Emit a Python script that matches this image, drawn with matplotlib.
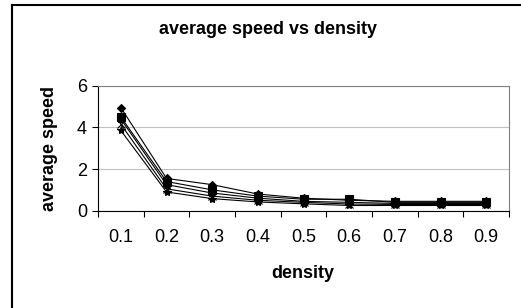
import numpy as np
import matplotlib.pyplot as plt
from matplotlib.lines import Line2D

plt.rcParams['font.family'] = ['Liberation Sans', 'DejaVu Sans']

densities = ["0.1", "0.2", "0.3", "0.4", "0.5", "0.6", "0.7", "0.8", "0.9"]
s1 = [4.95, 1.55, 1.25, 0.80, 0.60, 0.50, 0.45, 0.45, 0.45]
s2 = [4.50, 1.40, 1.00, 0.70, 0.55, 0.55, 0.40, 0.40, 0.40]
s3 = [4.40, 1.25, 0.85, 0.60, 0.45, 0.40, 0.35, 0.35, 0.35]
s4 = [4.15, 1.05, 0.70, 0.50, 0.40, 0.32, 0.30, 0.30, 0.30]
s5 = [3.85, 0.90, 0.58, 0.42, 0.33, 0.25, 0.25, 0.25, 0.25]
series = [s1, s2, s3, s4, s5]
markers = ['D', 's', '^', 'x', '*']
sizes = [4.5, 5.5, 5, 5.5, 6]

fig = plt.figure(figsize=(5.21, 3.08), dpi=100)
ax = fig.add_axes([98 / 521, 1 - 210.7 / 308, 411 / 521, 125 / 308])

x = np.arange(len(densities)) + 0.5
for vals, m, ms in zip(series, markers, sizes):
    ax.plot(x, vals, color='black', lw=0.8, marker=m, markersize=ms,
            markerfacecolor='black', markeredgecolor='black', markeredgewidth=0.8)

ax.set_xlim(0, len(densities))
ax.set_ylim(0, 6)
ax.set_yticks([0, 2, 4, 6])
ax.yaxis.grid(True, color='#c0c0c0', lw=0.8)
ax.set_axisbelow(True)

ax.set_xticks(np.arange(len(densities) + 1))
ax.set_xticklabels([])
ax.set_xticks(x, minor=True)
ax.set_xticklabels(densities, minor=True)
ax.tick_params(axis='x', which='major', direction='out', length=4, width=0.8)
ax.tick_params(axis='x', which='minor', length=0, pad=13, labelsize=13)
ax.tick_params(axis='y', direction='out', length=4, width=0.8, labelsize=13, pad=4)

for side in ['top', 'right']:
    ax.spines[side].set_color('#808080')
    ax.spines[side].set_linewidth(0.8)
for side in ['left', 'bottom']:
    ax.spines[side].set_color('black')
    ax.spines[side].set_linewidth(0.8)

fig.text(303 / 521, 1 - 273 / 308, "density", fontsize=13, fontweight='bold',
         ha='center', va='center')
fig.text(49 / 521, 1 - 148 / 308, "average speed", fontsize=13, fontweight='bold',
         ha='center', va='center', rotation=90)
fig.text(268 / 521, 1 - 29 / 308, "average speed vs density", fontsize=13,
         fontweight='bold', ha='center', va='center')

# outer chart border
fig.add_artist(Line2D([12 / 521, 12 / 521], [0, 1 - 5 / 308], color='black', lw=1.5))
fig.add_artist(Line2D([12 / 521, 1], [1 - 5 / 308, 1 - 5 / 308], color='black', lw=1.5))

fig.savefig("out.png", dpi=100)
